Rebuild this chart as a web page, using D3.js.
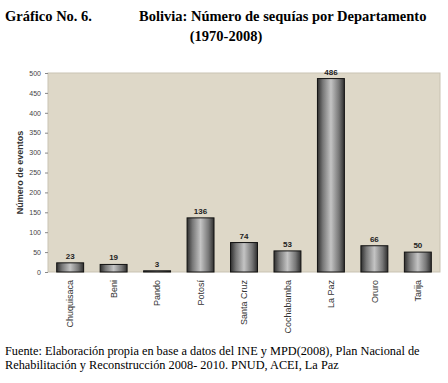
<!DOCTYPE html>
<html>
<head>
<meta charset="utf-8">
<script src="https://cdn.jsdelivr.net/npm/d3@7"></script>
<style>
  body { margin: 0; background: #fff; }
  svg { display: block; }
</style>
</head>
<body>
<div id="chart"></div>
<script>
// data
var departamentos = ["Chuquisaca", "Beni", "Pando", "Potosí", "Santa Cruz", "Cochabamba", "La Paz", "Oruro", "Tarija"];
var sequias = [23, 19, 3, 136, 74, 53, 486, 66, 50];
var yTicks = [0, 50, 100, 150, 200, 250, 300, 350, 400, 450, 500];

var width = 448, height = 383;
var margin = { top: 73, right: 8, bottom: 110, left: 48 };

var svg = d3.select("#chart").append("svg")
    .attr("width", width)
    .attr("height", height);

// gradient for the cylinder look of the bars
var grad = svg.append("defs").append("linearGradient")
    .attr("id", "barGrad")
    .attr("x1", "0%").attr("x2", "100%")
    .attr("y1", "0%").attr("y2", "0%");
grad.append("stop").attr("offset", "0%").attr("stop-color", "#2e2e2e");
grad.append("stop").attr("offset", "20%").attr("stop-color", "#777");
grad.append("stop").attr("offset", "50%").attr("stop-color", "#c4c4c4");
grad.append("stop").attr("offset", "80%").attr("stop-color", "#777");
grad.append("stop").attr("offset", "100%").attr("stop-color", "#2e2e2e");

// titles
var titleFont = "14.5px";
svg.append("text")
    .attr("x", 5).attr("y", 21)
    .style("font-family", "Liberation Serif")
    .style("font-weight", "bold")
    .style("font-size", titleFont)
    .text("Gráfico No. 6.");
svg.append("text")
    .attr("x", 139).attr("y", 21)
    .style("font-family", "Liberation Serif")
    .style("font-weight", "bold")
    .style("font-size", titleFont)
    .text("Bolivia: Número de sequías por Departamento");
svg.append("text")
    .attr("x", 226).attr("y", 41)
    .attr("text-anchor", "middle")
    .style("font-family", "Liberation Serif")
    .style("font-weight", "bold")
    .style("font-size", titleFont)
    .text("(1970-2008)");

var plotW = width - margin.left - margin.right;
var plotH = 272 - margin.top;

var x = d3.scaleBand()
    .domain(departamentos)
    .range([0, plotW])
    .paddingInner(0.38)
    .paddingOuter(0.2);

var y = d3.scaleLinear()
    .domain([0, 500])
    .range([plotH, 0]);

var g = svg.append("g")
    .attr("transform", "translate(" + margin.left + "," + margin.top + ")");

// plot background
g.append("rect")
    .attr("x", 0).attr("y", 0)
    .attr("width", plotW).attr("height", plotH)
    .attr("fill", "#ded8c8")
    .attr("stroke", "#c9c3b3")
    .attr("stroke-width", 1);

// y axis
var yAxis = g.append("g")
    .call(d3.axisLeft(y).tickValues(yTicks).tickSize(3).tickPadding(4));
yAxis.select(".domain").remove();
yAxis.selectAll(".tick line").attr("stroke", "#888");
yAxis.selectAll("text")
    .style("font-family", "Liberation Sans")
    .style("font-size", "7px")
    .attr("fill", "#444");

svg.append("text")
    .attr("transform", "translate(23," + (margin.top + plotH / 2) + ") rotate(-90)")
    .attr("text-anchor", "middle")
    .style("font-family", "Liberation Sans")
    .style("font-weight", "bold")
    .style("font-size", "9px")
    .attr("fill", "#333")
    .text("Número de eventos");

// bars
var bar = g.selectAll(".bar")
    .data(departamentos)
    .enter()
    .append("g")
    .attr("class", "bar");

bar.append("rect")
    .attr("x", d => x(d))
    .attr("y", (d, i) => y(sequias[i]))
    .attr("width", x.bandwidth())
    .attr("height", (d, i) => plotH - y(sequias[i]))
    .attr("fill", "url(#barGrad)")
    .attr("stroke", "#111")
    .attr("stroke-width", 1);

bar.append("text")
    .attr("x", d => x(d) + x.bandwidth() / 2)
    .attr("y", (d, i) => y(sequias[i]) - 4)
    .attr("text-anchor", "middle")
    .style("font-family", "Liberation Sans")
    .style("font-weight", "bold")
    .style("font-size", "8px")
    .attr("fill", "#222")
    .text((d, i) => sequias[i]);

// x axis labels (rotated)
var xAxis = g.append("g")
    .attr("transform", "translate(0," + plotH + ")")
    .call(d3.axisBottom(x).tickSize(0).tickPadding(0));
xAxis.select(".domain").remove();
xAxis.selectAll("text")
    .attr("transform", "rotate(-90)")
    .attr("text-anchor", "end")
    .attr("x", -8)
    .attr("y", 0)
    .attr("dy", "0.35em")
    .style("font-family", "Liberation Sans")
    .style("font-size", "9px")
    .attr("fill", "#333");

// source
svg.append("text")
    .attr("x", 5).attr("y", 355)
    .style("font-family", "Liberation Serif")
    .style("font-size", "12.3px")
    .text("Fuente: Elaboración propia en base a datos del INE y MPD(2008), Plan Nacional de");
svg.append("text")
    .attr("x", 5).attr("y", 369)
    .style("font-family", "Liberation Serif")
    .style("font-size", "12.3px")
    .text("Rehabilitación y Reconstrucción 2008- 2010. PNUD, ACEI, La Paz");
</script>
</body>
</html>
